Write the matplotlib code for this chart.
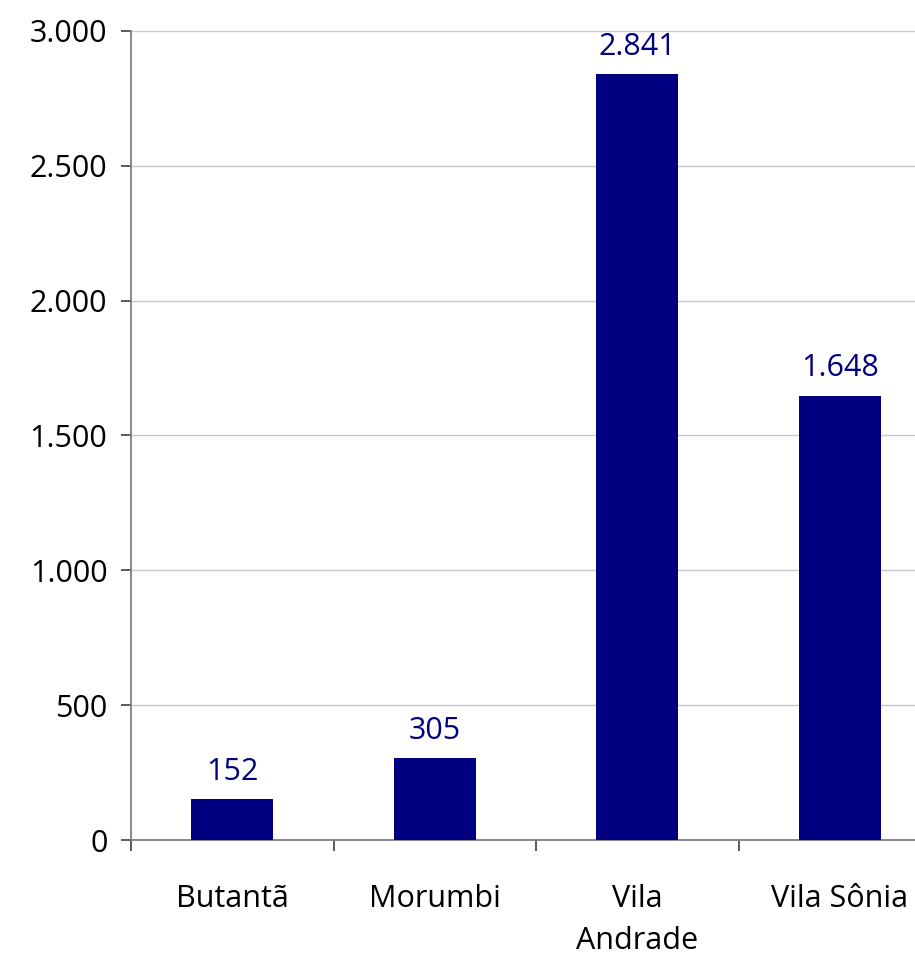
import numpy as np
import matplotlib
matplotlib.use('Agg')
import matplotlib.pyplot as plt
from matplotlib.ticker import FuncFormatter

# data
categories = ['Butantã', 'Morumbi', 'Vila\nAndrade', 'Vila Sônia']
values = [152, 305, 2841, 1648]

def br_fmt(v, pos=None):
    return f'{int(round(v)):,}'.replace(',', '.')

plt.rcParams['font.family'] = ['Open Sans', 'DejaVu Sans']

fig = plt.figure(figsize=(9.15, 9.55), dpi=100)
# plot area runs past the right edge of the canvas
ax = fig.add_axes([131/915, 115/955, 810/915, 809/955])

x = np.arange(len(categories))
bars = ax.bar(x, values, width=0.405, color='#000080', zorder=3)

for xi, v in zip(x, values):
    ax.text(xi, v + 45, br_fmt(v), ha='center', va='bottom',
            fontsize=22, color='#000080')

ax.set_xlim(-0.5, len(categories) - 0.5)
ax.set_ylim(0, 3000)
ax.set_yticks(np.arange(0, 3001, 500))
ax.yaxis.set_major_formatter(FuncFormatter(br_fmt))
ax.grid(axis='y', color='#c8c8c8', linewidth=1, zorder=0)

# category boundaries as ticks, labels in the middle
ax.set_xticks(np.arange(-0.5, len(categories), 1.0))
ax.set_xticklabels([])
ax.set_xticks(x, minor=True)
ax.set_xticklabels(categories, minor=True, fontsize=22, va='top', linespacing=1.5)
ax.tick_params(axis='x', which='minor', length=0, pad=32)
ax.tick_params(axis='x', which='major', length=8, width=1.2, color='#404040', direction='out')
ax.tick_params(axis='y', length=7, width=1.2, color='#404040', direction='out',
               labelsize=22, pad=10)

for s in ['top', 'right']:
    ax.spines[s].set_visible(False)
ax.spines['left'].set_color('#808080')
ax.spines['left'].set_linewidth(1.3)
ax.spines['bottom'].set_color('#808080')
ax.spines['bottom'].set_linewidth(1.3)

fig.savefig('out.png', dpi=100)
